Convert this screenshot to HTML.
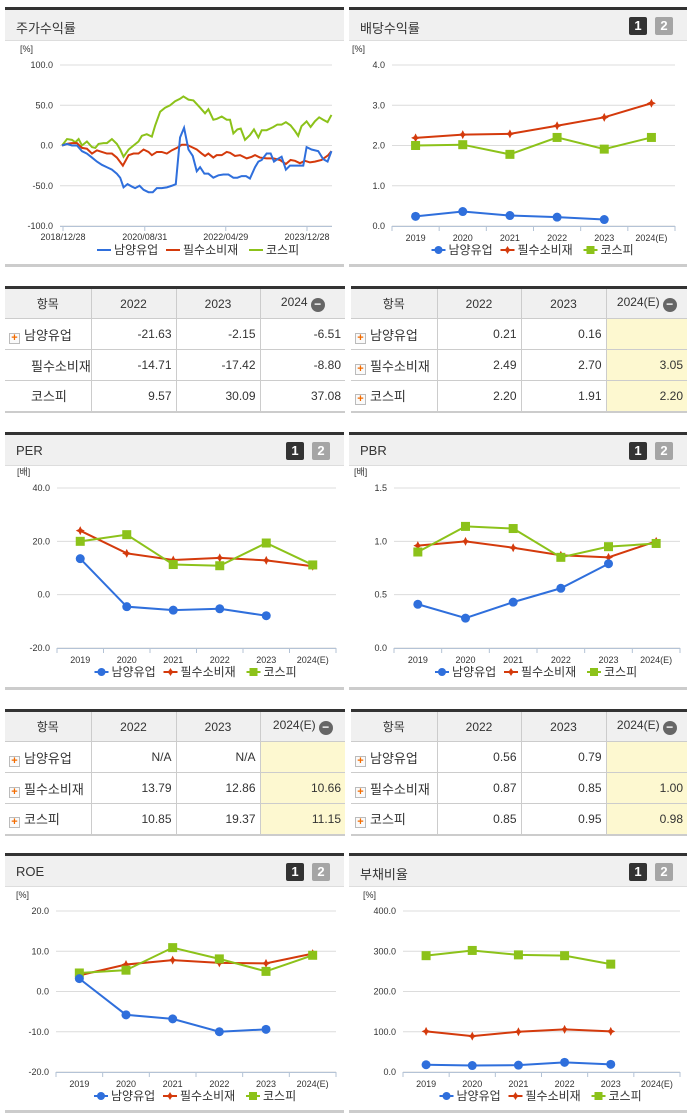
<!DOCTYPE html>
<html><head><meta charset="utf-8">
<style>
*{margin:0;padding:0;box-sizing:border-box}
body{width:691px;height:1115px;background:#fff;position:relative;overflow:hidden;font-family:"Liberation Sans","Noto Sans CJK KR",sans-serif;color:#333}
.panel{position:absolute;border-top:3px solid #333}
.phead{height:31px;background:#f0f0f0;border-bottom:1px solid #ddd;position:relative}
.ptitle{position:absolute;left:11px;top:8px;font-size:13px;color:#333}
.pbtn{position:absolute;top:7px;width:18px;height:18px;font-size:13px;font-weight:bold;color:#fff;text-align:center;line-height:18px;border-radius:2px}
.b1{background:#333;right:40px}.b2{background:#a5a5a5;right:14px}
.pfoot{position:absolute;left:0;right:0;height:3px;background:#ccc}
svg{position:absolute;left:0;top:0}
table{position:absolute;border-collapse:collapse;border-top:3px solid #333;border-bottom:2px solid #ccc;font-size:12px;table-layout:fixed}
th{background:#f0f0f0;font-weight:normal;height:31px;border:1px solid #ccc;border-top:none;color:#333;white-space:nowrap}
td{height:31px;border:1px solid #ccc;text-align:right;padding-right:4px;color:#333;white-space:nowrap}
th:first-child,td:first-child{border-left:none}th:last-child,td:last-child{border-right:none}
td.nm{text-align:left;padding-left:4px;font-size:13px}
td.nm.ind{padding-left:26px}
td.y{background:#fdf8d0}
.plus{display:inline-block;width:11px;height:11px;border:1px solid #bbb;background:#fafafa;color:#f26b00;font-size:11px;line-height:9px;text-align:center;font-weight:bold;vertical-align:-1px;margin-right:4px}
.minus{display:inline-block;width:14px;height:14px;border-radius:7px;background:#666;color:#fff;line-height:13px;text-align:center;font-size:12px;font-weight:bold;margin-left:3px;vertical-align:-2px}
</style></head><body>
<svg id="svg" width="691" height="1115"></svg>

<div class="panel" style="left:5px;top:7px;width:339px"><div class="phead"><span class="ptitle">주가수익률</span></div></div>
<div class="panel" style="left:349px;top:7px;width:338px"><div class="phead"><span class="ptitle">배당수익률</span><span class="pbtn b1">1</span><span class="pbtn b2">2</span></div></div>
<div class="panel" style="left:5px;top:432px;width:339px"><div class="phead"><span class="ptitle">PER</span><span class="pbtn b1">1</span><span class="pbtn b2">2</span></div></div>
<div class="panel" style="left:349px;top:432px;width:338px"><div class="phead"><span class="ptitle">PBR</span><span class="pbtn b1">1</span><span class="pbtn b2">2</span></div></div>
<div class="panel" style="left:5px;top:853px;width:339px"><div class="phead"><span class="ptitle">ROE</span><span class="pbtn b1">1</span><span class="pbtn b2">2</span></div></div>
<div class="panel" style="left:349px;top:853px;width:338px"><div class="phead"><span class="ptitle">부채비율</span><span class="pbtn b1">1</span><span class="pbtn b2">2</span></div></div>
<div class="pfoot" style="left:5px;width:339px;top:264px"></div>
<div class="pfoot" style="left:349px;width:338px;top:264px"></div>
<div class="pfoot" style="left:5px;width:339px;top:687px"></div>
<div class="pfoot" style="left:349px;width:338px;top:687px"></div>
<div class="pfoot" style="left:5px;width:339px;top:1110px"></div>
<div class="pfoot" style="left:349px;width:338px;top:1110px"></div>

<table style="left:5px;top:286px;width:340px">
<colgroup><col style="width:86px"><col style="width:85px"><col style="width:84px"><col style="width:85px"></colgroup>
<tr><th>항목</th><th>2022</th><th>2023</th><th>2024<span class="minus">−</span></th></tr>
<tr><td class="nm"><span class="plus">+</span>남양유업</td><td>-21.63</td><td>-2.15</td><td>-6.51</td></tr>
<tr><td class="nm ind">필수소비재</td><td>-14.71</td><td>-17.42</td><td>-8.80</td></tr>
<tr><td class="nm ind">코스피</td><td>9.57</td><td>30.09</td><td>37.08</td></tr>
</table>
<table style="left:351px;top:286px;width:336px">
<colgroup><col style="width:86px"><col style="width:84px"><col style="width:85px"><col style="width:81px"></colgroup>
<tr><th>항목</th><th>2022</th><th>2023</th><th>2024(E)<span class="minus">−</span></th></tr>
<tr><td class="nm"><span class="plus">+</span>남양유업</td><td>0.21</td><td>0.16</td><td class="y"></td></tr>
<tr><td class="nm"><span class="plus">+</span>필수소비재</td><td>2.49</td><td>2.70</td><td class="y">3.05</td></tr>
<tr><td class="nm"><span class="plus">+</span>코스피</td><td>2.20</td><td>1.91</td><td class="y">2.20</td></tr>
</table>
<table style="left:5px;top:709px;width:340px">
<colgroup><col style="width:86px"><col style="width:85px"><col style="width:84px"><col style="width:85px"></colgroup>
<tr><th>항목</th><th>2022</th><th>2023</th><th>2024(E)<span class="minus">−</span></th></tr>
<tr><td class="nm"><span class="plus">+</span>남양유업</td><td>N/A</td><td>N/A</td><td class="y"></td></tr>
<tr><td class="nm"><span class="plus">+</span>필수소비재</td><td>13.79</td><td>12.86</td><td class="y">10.66</td></tr>
<tr><td class="nm"><span class="plus">+</span>코스피</td><td>10.85</td><td>19.37</td><td class="y">11.15</td></tr>
</table>
<table style="left:351px;top:709px;width:336px">
<colgroup><col style="width:86px"><col style="width:84px"><col style="width:85px"><col style="width:81px"></colgroup>
<tr><th>항목</th><th>2022</th><th>2023</th><th>2024(E)<span class="minus">−</span></th></tr>
<tr><td class="nm"><span class="plus">+</span>남양유업</td><td>0.56</td><td>0.79</td><td class="y"></td></tr>
<tr><td class="nm"><span class="plus">+</span>필수소비재</td><td>0.87</td><td>0.85</td><td class="y">1.00</td></tr>
<tr><td class="nm"><span class="plus">+</span>코스피</td><td>0.85</td><td>0.95</td><td class="y">0.98</td></tr>
</table>

<script>
// ---- stock return series (days since 2018/12/28, value %) ----
const stockTickLabels = ["2018/12/28","2020/08/31","2022/04/29","2023/12/28"];
const stockTickDays = [0,612,1218,1826];
const stockYTicks = [100,50,0,-50,-100];
const namyangDays = [-7,30,67,105,142,179,217,254,291,329,366,403,428,453,483,515,540,573,603,640,672,702,739,777,814,844,876,906,939,971,1001,1026,1058,1088,1125,1163,1200,1238,1275,1305,1337,1370,1399,1437,1462,1487,1524,1554,1579,1604,1636,1668,1698,1736,1798,1823,1860,1910,1947,1980,2009];
const namyangVals = [0,2,0,0,-7,-10,-15,-20,-24,-27,-30,-35,-40,-52,-48,-51,-53,-50,-55,-58,-58,-53,-53,-52,-50,-48,10,22,-5,-13,-32,-27,-35,-35,-40,-37,-36,-36,-40,-40,-38,-38,-41,-27,-20,-18,-10,-10,-20,-17,-14,-30,-25,-25,-25,-2,-5,-7,-17,-20,-7];
const staplesDays = [-7,30,67,105,142,179,217,254,291,329,366,403,448,491,528,565,603,640,665,702,739,777,814,852,889,926,964,1001,1038,1063,1088,1125,1150,1188,1225,1250,1287,1325,1375,1412,1437,1474,1524,1574,1624,1668,1703,1736,1773,1810,1848,1885,1935,1985,2009];
const staplesVals = [0,2,3,3,-3,-4,-10,-6,-8,-10,-10,-15,-25,-12,-10,-10,-5,-8,-12,-8,-8,-10,-6,-3,1,1,-2,-5,-10,-13,-10,-15,-12,-12,-8,-9,-13,-12,-16,-14,-12,-15,-16,-16,-18,-23,-18,-19,-22,-19,-21,-20,-18,-12,-7];
const kospiDays = [-7,30,67,92,117,142,179,217,242,266,304,329,366,403,428,453,491,528,565,590,627,665,690,727,764,802,839,876,901,939,976,1026,1063,1088,1125,1150,1188,1225,1250,1275,1305,1330,1362,1399,1429,1462,1487,1524,1549,1574,1604,1636,1668,1703,1736,1760,1785,1823,1853,1885,1917,1947,1980,2009];
const kospiVals = [0,8,7,4,8,0,5,-2,-3,2,3,3,8,2,-5,-14,-5,0,5,12,14,11,25,42,47,50,55,58,61,57,56,47,40,45,32,33,36,32,32,15,20,21,7,13,20,10,19,19,21,23,26,26,29,25,18,12,24,30,23,30,35,32,29,38];

// ---- annual charts ----
const years = ["2019","2020","2021","2022","2023","2024(E)"];
const divNamyang = [0.24,0.36,0.26,0.22,0.16];
const divStaples = [2.19,2.27,2.29,2.49,2.70,3.05];
const divKospi = [2.00,2.02,1.78,2.20,1.91,2.20];
const divTicks = [4,3,2,1,0];
const perNamyang = [13.5,-4.5,-5.8,-5.3,-7.9];
const perStaples = [24.0,15.5,13.0,13.79,12.86,10.66];
const perKospi = [20.0,22.5,11.3,10.85,19.37,11.15];
const perTicks = [40,20,0,-20];
const pbrNamyang = [0.41,0.28,0.43,0.56,0.79];
const pbrStaples = [0.96,1.00,0.94,0.87,0.85,1.00];
const pbrKospi = [0.90,1.14,1.12,0.85,0.95,0.98];
const pbrTicks = [1.5,1.0,0.5,0.0];
const roeNamyang = [3.2,-5.8,-6.8,-10.0,-9.4];
const roeStaples = [4.0,6.7,7.8,7.1,7.0,9.4];
const roeKospi = [4.6,5.3,10.9,8.1,5.0,9.0];
const roeTicks = [20,10,0,-10,-20];
const debtNamyang = [18,16,17,24,19];
const debtStaples = [101,89,100,106,101];
const debtKospi = [289,302,291,289,268];
const debtTicks = [400,300,200,100,0];

const BLUE="#2f6fdc",RED="#d43a0c",GREEN="#8cc21a";
const NS="http://www.w3.org/2000/svg";
const svg=document.getElementById('svg');
function mk(tag,attrs,parent){const e=document.createElementNS(NS,tag);for(const k in attrs)e.setAttribute(k,attrs[k]);(parent||svg).appendChild(e);return e;}
function txt(x,y,s,anchor,size,parent){const t=mk('text',{x:x,y:y,'text-anchor':anchor,'font-size':size,fill:'#333','font-family':'Liberation Sans, Noto Sans CJK KR, sans-serif'},parent);t.textContent=s;return t;}

function yAxis(g,x0,x1,yT,yB,ticks,unit){
  const mx=Math.max(...ticks),mn=Math.min(...ticks);
  const ys=v=>yB-(v-mn)/(mx-mn)*(yB-yT);
  ticks.forEach(v=>{
    const l=mk('line',{x1:x0,x2:x1,y1:ys(v),y2:ys(v),stroke:'#dcdcdc','stroke-width':1},g);
    
    
    const t=txt(x0-7,ys(v)+3,v.toFixed(1),'end',9,g);
    
    
  });
  const u=txt(x0-40,yT-13,unit,'start',9,g);
  
  
  mk('line',{x1:x0,x2:x1,y1:yB+0.5,y2:yB+0.5,stroke:'#b4c3d6','stroke-width':1},g);
  return ys;
}
function legend(g,cx,y,markers){
  const items=[["남양유업",BLUE,'circle'],["필수소비재",RED,'diamond'],["코스피",GREEN,'square']];
  const widths=[52,66,40];let total=widths.reduce((a,b)=>a+b,0)+40;let x=cx-total/2;
  items.forEach((it,i)=>{
    const lg=mk('g',{},g);
    
    
    mk('line',{x1:x,x2:x+14,y1:y,y2:y,stroke:it[1],'stroke-width':2},lg);
    if(markers)marker(lg,x+7,y,it[2],it[1],4);
    txt(x+17,y+4,it[0],'start',12,lg);
    x+=widths[i]+17;
  });
}
function marker(g,x,y,type,c,r){
  r=r||4.5;
  if(type==='circle')mk('circle',{cx:x,cy:y,r:r,fill:c},g);
  else if(type==='square')mk('rect',{x:x-r,y:y-r,width:2*r,height:2*r,fill:c},g);
  else mk('path',{d:`M${x} ${y-r}L${x+1.5} ${y-1.5}L${x+r} ${y}L${x+1.5} ${y+1.5}L${x} ${y+r}L${x-1.5} ${y+1.5}L${x-r} ${y}L${x-1.5} ${y-1.5}Z`,fill:c},g);
}
function annual(name,x0,x1,yT,yB,ticks,unit,series){
  const g=mk('g',{});
  
  
  const ys=yAxis(g,x0,x1,yT,yB,ticks,unit);
  const bw=(x1-x0)/years.length;
  const xs=i=>x0+bw*(i+0.5);
  years.forEach((yr,i)=>{
    mk('line',{x1:x0+bw*i,x2:x0+bw*i,y1:yB,y2:yB+5,stroke:'#b4c3d6'},g);
    const t=txt(xs(i),yB+15,yr,'middle',9,g);
    
    
  });
  mk('line',{x1:x1,x2:x1,y1:yB,y2:yB+5,stroke:'#b4c3d6'},g);
  series.forEach(s=>{
    const [vals,c,type,nm]=s;
    const p=mk('polyline',{points:vals.map((v,i)=>xs(i)+','+ys(v)).join(' '),fill:'none',stroke:c,'stroke-width':2},g);
    
    
    vals.forEach((v,i)=>{
      const mg=mk('g',{},g);
      
      
      marker(mg,xs(i),ys(v),type,c);
    });
  });
  legend(g,(x0+x1)/2-3,yB+24,true);
}
// stock chart
(function(){
  const g=mk('g',{});
  
  
  const x0=60,x1=332,yT=65,yB=226;
  const ys=yAxis(g,x0,x1,yT,yB,stockYTicks,'[%]');
  const xd=d=>63+d*(307-63)/1826;
  stockTickDays.forEach((d,i)=>{
    mk('line',{x1:xd(d),x2:xd(d),y1:yB,y2:yB+5,stroke:'#b4c3d6'},g);
    const t=txt(xd(d),yB+14,stockTickLabels[i],'middle',9,g);
    
    
  });
  [[kospiDays,kospiVals,GREEN,'kospi'],[staplesDays,staplesVals,RED,'staples'],[namyangDays,namyangVals,BLUE,'namyang']].forEach(s=>{
    const p=mk('polyline',{points:s[0].map((d,i)=>xd(d)+','+ys(s[1][i])).join(' '),fill:'none',stroke:s[2],'stroke-width':2},g);
    
    
  });
  legend(g,196,250,false);
})();
annual('dividend',392,675,65,226,divTicks,'[%]',[[divStaples,RED,'diamond','staples'],[divKospi,GREEN,'square','kospi'],[divNamyang,BLUE,'circle','namyang']]);
annual('per',57,336,488,648,perTicks,'[배]',[[perStaples,RED,'diamond','staples'],[perKospi,GREEN,'square','kospi'],[perNamyang,BLUE,'circle','namyang']]);
annual('pbr',394,680,488,648,pbrTicks,'[배]',[[pbrStaples,RED,'diamond','staples'],[pbrKospi,GREEN,'square','kospi'],[pbrNamyang,BLUE,'circle','namyang']]);
annual('roe',56,336,911,1072,roeTicks,'[%]',[[roeStaples,RED,'diamond','staples'],[roeKospi,GREEN,'square','kospi'],[roeNamyang,BLUE,'circle','namyang']]);
annual('debt',403,680,911,1072,debtTicks,'[%]',[[debtStaples,RED,'diamond','staples'],[debtKospi,GREEN,'square','kospi'],[debtNamyang,BLUE,'circle','namyang']]);
</script>
</body></html>
